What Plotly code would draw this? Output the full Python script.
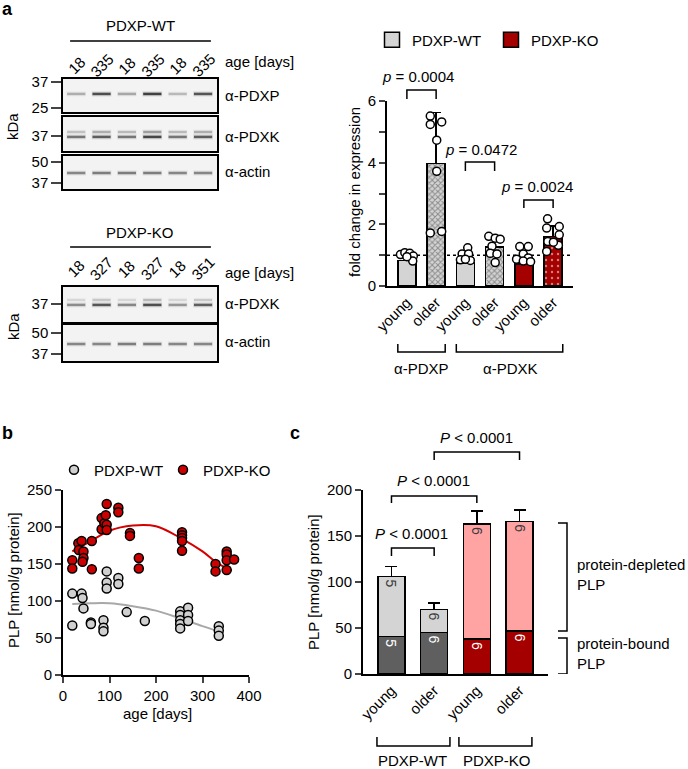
import plotly.graph_objects as go

W, H = 688, 769
FONT = "Liberation Sans, Arial, sans-serif"

# ---------------- panel a: western blots ----------------
lanes = [0, 1, 2, 3, 4, 5]
wt_ages = ["18", "335", "18", "335", "18", "335"]
ko_ages = ["18", "327", "18", "327", "18", "351"]

# band darkness per lane (0 = nothing, 1 = darkest)
wt_pdxp = [0.25, 0.85, 0.3, 0.95, 0.2, 0.8]
wt_pdxk = [0.6, 0.75, 0.6, 0.9, 0.6, 0.75]
wt_pdxk_upper = [0.15, 0.25, 0.2, 0.35, 0.2, 0.25]
wt_actin = [0.5, 0.55, 0.55, 0.55, 0.5, 0.5]
ko_pdxk = [0.45, 0.8, 0.5, 0.85, 0.4, 0.75]
ko_pdxk_upper = [0.03, 0.12, 0.03, 0.18, 0.03, 0.1]
ko_actin = [0.5, 0.5, 0.55, 0.55, 0.5, 0.5]

# apparent band sizes (kDa)
KDA_PDXP = 30.9
KDA_PDXK = 36.5
KDA_PDXK_UPPER = 39.3
KDA_ACTIN = 42.7

# ---------------- panel a: quantification ----------------
a_age = ["young", "older", "young", "older", "young", "older"]
a_geno = ["WT", "WT", "WT", "WT", "KO", "KO"]
a_mean = [0.82, 3.97, 0.74, 1.26, 0.72, 1.60]
a_sd = [0.14, 1.65, 0.2, 0.33, 0.2, 0.35]
a_pts_x = [-0.22, -0.07, 0.1, 0.22, 0.2, 0.0,
           0.8, 0.8, 1.19, 1.02, 1.02, 0.8, 1.19,
           2.08, 1.89, 2.11, 1.83, 2.17, 2.0,
           2.8, 3.02, 3.19, 2.91, 2.85, 3.08, 3.02,
           3.86, 4.15, 3.98, 3.75, 4.15, 3.98, 4.23,
           4.81, 5.21, 4.78, 5.21, 4.82, 5.18, 4.78, 5.01]
a_pts_y = [1.02, 1.08, 1.06, 0.97, 0.81, 0.95,
           5.51, 5.24, 5.32, 4.73, 3.72, 1.72, 1.77,
           1.24, 1.04, 1.04, 0.85, 0.83, 0.87,
           1.61, 1.55, 1.52, 1.29, 1.06, 1.04, 0.76,
           1.28, 1.28, 1.04, 0.87, 0.91, 0.81, 0.79,
           2.18, 1.93, 1.88, 1.66, 1.44, 1.32, 1.12, 1.42]

# ---------------- panel b: PLP vs age ----------------
wt_age = [20, 20, 40, 42, 44, 60, 60, 87, 87, 87, 94, 94, 94, 119, 119, 137, 176,
          252, 252, 252, 252, 252, 269, 269, 269, 335, 335, 335]
wt_plp = [110, 67, 110, 104, 90, 71, 69, 74, 64, 59, 140, 125, 117, 131, 123, 85, 73,
          86, 81, 74, 69, 63, 91, 81, 73, 66, 60, 53]
ko_age = [20, 20, 33, 34, 40, 44, 44, 42, 62, 62, 83, 83, 89, 92, 94, 94, 94, 119, 119,
          144, 144, 163, 163, 256, 256, 256, 256, 256, 328, 328, 352, 352, 352, 352, 368]
ko_plp = [155, 144, 178, 169, 181, 167, 158, 153, 143, 181, 212, 197, 205, 216, 231, 203,
          196, 226, 220, 192, 188, 158, 144, 193, 189, 185, 181, 168, 150, 140, 167, 163,
          155, 142, 156]
wt_fit_age = [20, 60, 100, 150, 200, 250, 300, 335]
wt_fit_plp = [96, 97, 97, 93, 87, 77, 66, 59]
ko_fit_age = [20, 60, 100, 150, 200, 256, 300, 330, 363]
ko_fit_plp = [167, 181, 195, 202, 201, 184, 167, 152, 141]

# ---------------- panel c: PLP fractions ----------------
c_age = ["young", "older", "young", "older"]
c_geno = ["WT", "WT", "KO", "KO"]
c_bound = [41, 45, 38, 47]
c_bound_sd = [8, 11, 5, 8]
c_depleted = [65, 25, 125, 119]
c_total_sd = [11, 7, 14, 12]
c_n = ["5", "6", "6", "6"]

GRAY = "#d4d4d4"
RED = "#a50000"


def px(x):
    return x / W


def py(y):
    return 1 - y / H


fig = go.Figure()


def add_bands(xa, ya, kda, levels):
    halo = [f"rgba(90,90,90,{0.22 * v:.2f})" for v in levels]
    core = [f"rgba(30,30,30,{0.1 + 0.75 * v:.2f})" for v in levels]
    for cols, size, width in ((halo, 14, 5), (core, 13, 2.5)):
        fig.add_trace(go.Scatter(
            x=lanes, y=[kda] * len(lanes), mode="markers", xaxis=xa, yaxis=ya,
            marker=dict(symbol="line-ew-open", size=size, color=cols, line=dict(width=width)),
            showlegend=False, hoverinfo="skip"))


add_bands("x", "y", KDA_PDXP, wt_pdxp)
add_bands("x2", "y2", KDA_PDXK_UPPER, wt_pdxk_upper)
add_bands("x2", "y2", KDA_PDXK, wt_pdxk)
add_bands("x3", "y3", KDA_ACTIN, wt_actin)
add_bands("x4", "y4", KDA_PDXK_UPPER, ko_pdxk_upper)
add_bands("x4", "y4", KDA_PDXK, ko_pdxk)
add_bands("x5", "y5", KDA_ACTIN, ko_actin)

# panel a bars
geno_col = {"WT": GRAY, "KO": RED}
a_cols = [geno_col[g] for g in a_geno]
a_shape = ["" if a == "young" else ("x" if g == "WT" else ".") for a, g in zip(a_age, a_geno)]
a_fg = ["#8c8c8c" if g == "WT" else "white" for g in a_geno]
a_psize = [4 if g == "WT" else 6 for g in a_geno]
a_psol = [0.45 if g == "WT" else 0.12 for g in a_geno]
fig.add_trace(go.Bar(
    x=list(range(len(a_mean))), y=a_mean, width=0.62, xaxis="x6", yaxis="y6",
    marker=dict(color=a_cols, line=dict(color="black", width=1.5),
                pattern=dict(shape=a_shape, fgcolor=a_fg, bgcolor=a_cols, size=a_psize,
                             solidity=a_psol, fillmode="overlay")),
    error_y=dict(type="data", symmetric=False, array=a_sd, arrayminus=[0] * 6,
                 color="black", thickness=1.5, width=5),
    showlegend=False, hoverinfo="skip"))
fig.add_trace(go.Scatter(
    x=a_pts_x, y=a_pts_y, mode="markers", xaxis="x6", yaxis="y6", cliponaxis=False,
    marker=dict(size=8, color="white", line=dict(color="black", width=1.5)),
    showlegend=False, hoverinfo="skip"))
for name, col in (("PDXP-WT", GRAY), ("PDXP-KO", RED)):
    fig.add_trace(go.Scatter(
        x=[None], y=[None], mode="markers", xaxis="x6", yaxis="y6", name=name,
        legend="legend",
        marker=dict(symbol="square", size=15, color=col, line=dict(color="black", width=1.5))))

# panel b
fig.add_trace(go.Scatter(x=wt_fit_age, y=wt_fit_plp, mode="lines", line_shape="spline",
                         line=dict(color="#a8a8a8", width=2), xaxis="x7", yaxis="y7",
                         showlegend=False, hoverinfo="skip"))
fig.add_trace(go.Scatter(x=ko_fit_age, y=ko_fit_plp, mode="lines", line_shape="spline",
                         line=dict(color="#d40000", width=2), xaxis="x7", yaxis="y7",
                         showlegend=False, hoverinfo="skip"))
fig.add_trace(go.Scatter(x=wt_age, y=wt_plp, mode="markers", name="PDXP-WT", legend="legend2",
                         marker=dict(size=9, color="#d0d0d0", line=dict(color="black", width=1.5)),
                         xaxis="x7", yaxis="y7", cliponaxis=False))
fig.add_trace(go.Scatter(x=ko_age, y=ko_plp, mode="markers", name="PDXP-KO", legend="legend2",
                         marker=dict(size=9, color="#cc0000", line=dict(color="black", width=1.5)),
                         xaxis="x7", yaxis="y7", cliponaxis=False))

# panel c
c_dark = ["#5f5f5f" if g == "WT" else RED for g in c_geno]
c_light = [GRAY if g == "WT" else "#ffa3a3" for g in c_geno]
cx = list(range(len(c_age)))
fig.add_trace(go.Bar(
    x=cx, y=c_bound, width=0.63, xaxis="x8", yaxis="y8",
    marker=dict(color=c_dark, line=dict(color="black", width=1.5)),
    error_y=dict(type="data", symmetric=False, array=c_bound_sd, arrayminus=[0] * 4,
                 color="black", thickness=1.5, width=6),
    text=c_n, textposition="inside", insidetextanchor="end", textangle=90,
    insidetextfont=dict(color="white", size=14, family=FONT),
    showlegend=False, hoverinfo="skip"))
fig.add_trace(go.Bar(
    x=cx, y=c_depleted, width=0.63, xaxis="x8", yaxis="y8",
    marker=dict(color=c_light, line=dict(color="black", width=1.5)),
    error_y=dict(type="data", symmetric=False, array=c_total_sd, arrayminus=[0] * 4,
                 color="black", thickness=1.5, width=6),
    text=c_n, textposition="inside", insidetextanchor="end", textangle=90,
    insidetextfont=dict(color="#3a3a3a", size=14, family=FONT),
    showlegend=False, hoverinfo="skip"))

# ---------------- axes ----------------
layout = {}
axis_font = dict(size=15, family=FONT, color="black")
blots = [
    ("", 79, 112, [1.3717, 1.5878], [25, 37]),
    ("2", 117, 151, [1.4701, 1.6925], [37]),
    ("3", 156, 189, [1.5308, 1.7363], [37, 50]),
    ("4", 287, 322, [1.4505, 1.6794], [37]),
    ("5", 325, 361, [1.5246, 1.7488], [37, 50]),
]
shapes = []
for k, top, bot, rng, kda_ticks in blots:
    layout["xaxis" + k] = dict(domain=[px(63), px(217)], range=[-0.52, 5.55], anchor="y" + k,
                               showline=True, mirror=True, linecolor="black", linewidth=1.5,
                               ticks="", showticklabels=False, showgrid=False, zeroline=False,
                               fixedrange=True, automargin=False)
    layout["yaxis" + k] = dict(domain=[py(bot), py(top)], type="log", range=rng, anchor="x" + k,
                               showline=True, mirror=True, linecolor="black", linewidth=1.5,
                               tickvals=kda_ticks, ticks="outside", ticklen=10, tickwidth=2,
                               tickfont=axis_font, showgrid=False, zeroline=False, fixedrange=True,
                               automargin=False)
    shapes.append(dict(type="rect", xref=f"x{k} domain", yref=f"y{k} domain", x0=0, x1=1, y0=0,
                       y1=1, fillcolor="#f3f3f3", line=dict(width=0), layer="below"))

common = dict(showline=True, linecolor="black", linewidth=2, showgrid=False, zeroline=False,
              tickfont=axis_font, tickwidth=2, ticklen=6, fixedrange=True, automargin=False)
layout["xaxis6"] = dict(common, domain=[px(387), px(573)], range=[-0.68, 5.68], anchor="y6",
                        tickvals=list(range(6)), ticktext=a_age, tickangle=-45, ticks="")
layout["yaxis6"] = dict(common, domain=[py(286), py(101)], range=[0, 6], anchor="x6",
                        tickvals=[0, 1, 2, 3, 4, 5, 6], ticktext=["0", "", "2", "", "4", "", "6"],
                        ticks="outside")
layout["xaxis7"] = dict(common, domain=[px(63), px(249)], range=[0, 400], anchor="y7",
                        tickvals=[0, 100, 200, 300, 400], ticks="outside")
layout["yaxis7"] = dict(common, domain=[py(675), py(490)], range=[0, 250], anchor="x7",
                        tickvals=[0, 50, 100, 150, 200, 250], ticks="outside")
layout["xaxis8"] = dict(common, domain=[px(363), px(548)], range=[-0.667, 3.667], anchor="y8",
                        tickvals=cx, ticktext=c_age, tickangle=-45, ticks="")
layout["yaxis8"] = dict(common, domain=[py(674), py(490)], range=[0, 200], anchor="x8",
                        tickvals=[0, 50, 100, 150, 200], ticks="outside")

# dotted reference line at 1
shapes.append(dict(type="line", xref="x6 domain", yref="y6", x0=0, x1=1, y0=1, y1=1,
                   line=dict(color="black", width=1.5, dash="dot"), layer="below"))


def bracket(xref, x0, x1, y_line, y_leg):
    path = (f"M {x0},{py(y_leg)} L {x0},{py(y_line)} L {x1},{py(y_line)} L {x1},{py(y_leg)}")
    return dict(type="path", xref=xref, yref="paper", path=path,
                line=dict(color="black", width=1.5))


# title lines above blots
shapes.append(dict(type="line", xref="x", yref="paper", x0=-0.24, x1=5.31, y0=py(41), y1=py(41),
                   line=dict(color="black", width=1.5)))
shapes.append(dict(type="line", xref="x4", yref="paper", x0=-0.24, x1=5.31, y0=py(247),
                   y1=py(247), line=dict(color="black", width=1.5)))
# panel a brackets
shapes += [bracket("x6", 0, 1, 90, 99), bracket("x6", 2, 3, 162, 171), bracket("x6", 4, 5, 200, 208),
           bracket("x6", -0.31, 1.31, 352, 344), bracket("x6", 1.69, 5.33, 352, 344)]
# panel c brackets
shapes += [bracket("x8", 0, 1, 548, 556), bracket("x8", 0, 2, 496, 503), bracket("x8", 1, 3, 452, 460),
           bracket("x8", -0.34, 1.37, 746, 737), bracket("x8", 1.58, 3.29, 746, 737)]
for y0, y1 in ((46.7, 164), (0, 39)):
    shapes.append(dict(type="path", xref="paper", yref="y8",
                       path=f"M {px(558)},{y0} L {px(567)},{y0} L {px(567)},{y1} L {px(558)},{y1}",
                       line=dict(color="black", width=1.5)))


def note(text, x, y, size=15, xanchor="center", angle=0, xref="paper", bold=False, align="center"):
    if bold:
        text = f"<b>{text}</b>"
    return dict(text=text, x=px(x) if xref == "paper" else x, y=py(y), xref=xref, yref="paper",
                showarrow=False, xanchor=xanchor, yanchor="middle", textangle=angle, align=align,
                font=dict(size=size, family=FONT, color="black"))


ann = [
    note("a", 0, 9, size=18, xanchor="left", bold=True),
    note("b", 0, 433, size=18, xanchor="left", bold=True),
    note("c", 288, 433, size=18, xanchor="left", bold=True),
    note("PDXP-WT", 140, 25),
    note("PDXP-KO", 140, 232),
    note("age [days]", 223, 62, xanchor="left"),
    note("age [days]", 223, 272, xanchor="left"),
    note("α-PDXP", 223, 95, xanchor="left"),
    note("α-PDXK", 223, 136, xanchor="left"),
    note("α-actin", 223, 172, xanchor="left"),
    note("α-PDXK", 223, 304, xanchor="left"),
    note("α-actin", 223, 341, xanchor="left"),
    note("kDa", 13, 127, angle=-90),
    note("kDa", 13, 327, angle=-90),
    note("fold change in expression", 355, 192, angle=-90),
    note("<i>p</i> = 0.0004", 418, 77),
    note("<i>p</i> = 0.0472", 481, 149),
    note("<i>p</i> = 0.0024", 537, 187),
    note("α-PDXP", 421, 369),
    note("α-PDXK", 510, 369),
    note("PLP [nmol/g protein]", 13, 580, angle=-90),
    note("age [days]", 157, 713),
    note("PLP [nmol/g protein]", 313, 582, angle=-90),
    note("<i>P</i> < 0.0001", 412, 533),
    note("<i>P</i> < 0.0001", 433, 480),
    note("<i>P</i> < 0.0001", 476, 437),
    note("protein-depleted<br>PLP", 575, 574, xanchor="left", align="left"),
    note("protein-bound<br>PLP", 575, 653, xanchor="left", align="left"),
    note("PDXP-WT", 413, 760),
    note("PDXP-KO", 497, 760),
]
for xa, ages, y in (("x", wt_ages, 65), ("x4", ko_ages, 269)):
    for lane, age in zip(lanes, ages):
        ann.append(note(age, lane, y, angle=-45, xref=xa))

legend_style = dict(orientation="h", xanchor="left", yanchor="middle", bgcolor="rgba(0,0,0,0)",
                    font=dict(size=15, family=FONT, color="black"), entrywidthmode="pixels",
                    traceorder="normal", itemclick=False, itemdoubleclick=False)
fig.update_layout(
    **layout,
    width=W, height=H, margin=dict(l=0, r=0, t=0, b=0, autoexpand=False),
    paper_bgcolor="white", plot_bgcolor="white",
    font=dict(family=FONT, size=15, color="black"),
    barmode="stack", hovermode=False, showlegend=True,
    legend=dict(legend_style, x=px(372), y=py(40), entrywidth=74),
    legend2=dict(legend_style, x=px(54), y=py(470), entrywidth=64),
    shapes=shapes, annotations=ann,
)

fig.write_html("out.html", config={"displayModeBar": False},
               post_script="document.body.style.margin='0';document.body.style.overflow='hidden';")
